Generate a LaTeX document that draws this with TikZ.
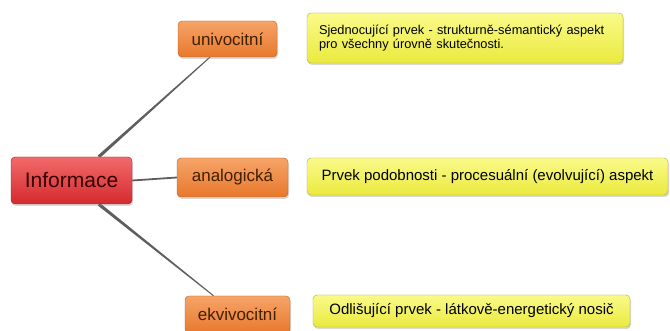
\documentclass[tikz,border=0pt]{standalone}
\usepackage{fontspec}
\setmainfont{Liberation Sans}
\usetikzlibrary{shadows,calc,backgrounds}
\definecolor{redtop}{HTML}{F26A6A}
\definecolor{redbot}{HTML}{D42A2E}
\definecolor{redline}{HTML}{A41C1C}
\definecolor{orgtop}{HTML}{F6A468}
\definecolor{orgbot}{HTML}{E8782C}
\definecolor{orgline}{HTML}{B0602A}
\definecolor{yeltop}{HTML}{FAFA8A}
\definecolor{yelbot}{HTML}{EAEA3E}
\definecolor{yelline}{HTML}{A8A834}
\definecolor{branchline}{HTML}{5E5E5E}

\begin{document}
\begin{tikzpicture}[x=1pt,y=-1pt,
  every node/.style={rounded corners=4pt,inner sep=0pt,
    drop shadow={opacity=0.3,shadow xshift=1pt,shadow yshift=-2pt}},
  topic/.style={draw=redline,top color=redtop,bottom color=redbot,
    text=black!80!red,font=\fontsize{21}{24}\selectfont},
  branch/.style={draw=orgline,top color=orgtop,bottom color=orgbot,
    text=black!75!orange,font=\fontsize{17}{20}\selectfont},
  note/.style={draw=yelline,top color=yeltop,bottom color=yelbot,
    text=black,font=\fontsize{15}{18}\selectfont},
  link/.style={draw=branchline,line width=1.8pt}]
  \useasboundingbox (0,0) rectangle (670,331);

  % Central topic
  \node[topic,minimum width=121,minimum height=47] (info) at (71.5,180.5) {Informace};

  % Branches
  \node[branch,minimum width=99,minimum height=36] (univ) at (227.5,39) {univocitní};
  \node[branch,minimum width=111,minimum height=39] (anal) at (232.5,177.5) {analogická};
  \node[branch,minimum width=105,minimum height=37] (ekvi) at (237.5,314.5) {ekvivocitní};

  % Notes
  \node[note,minimum width=316,minimum height=50,text width=292,align=left,
    font=\fontsize{12.8}{14}\selectfont] (univnote) at (465,38)
    {Sjednocující prvek - strukturně-sémantický aspekt\\pro všechny úrovně skutečnosti.};
  \node[note,minimum width=361,minimum height=37] (analnote) at (487.5,176.5)
    {Prvek podobnosti - procesuální (evolvující) aspekt};
  \node[note,minimum width=317,minimum height=32] (ekvinote) at (471.5,311)
    {Odlišující prvek - látkově-energetický nosič};

  % Connectors, tapered, behind the boxes
  \begin{scope}[on background layer]
  \fill[branchline] ($(info.41)!1.6pt!90:(univ.226)$) -- ($(univ.226)!0.5pt!-90:(info.41)$)
    -- ($(univ.226)!0.5pt!90:(info.41)$) -- ($(info.41)!1.6pt!-90:(univ.226)$) -- cycle;
  \fill[branchline] ($(info.-41)!1.6pt!90:(ekvi.142)$) -- ($(ekvi.142)!0.5pt!-90:(info.-41)$)
    -- ($(ekvi.142)!0.5pt!90:(info.-41)$) -- ($(info.-41)!1.6pt!-90:(ekvi.142)$) -- cycle;
  \draw[link] (info.east) -- (anal.west);
  \end{scope}
\end{tikzpicture}
\end{document}
